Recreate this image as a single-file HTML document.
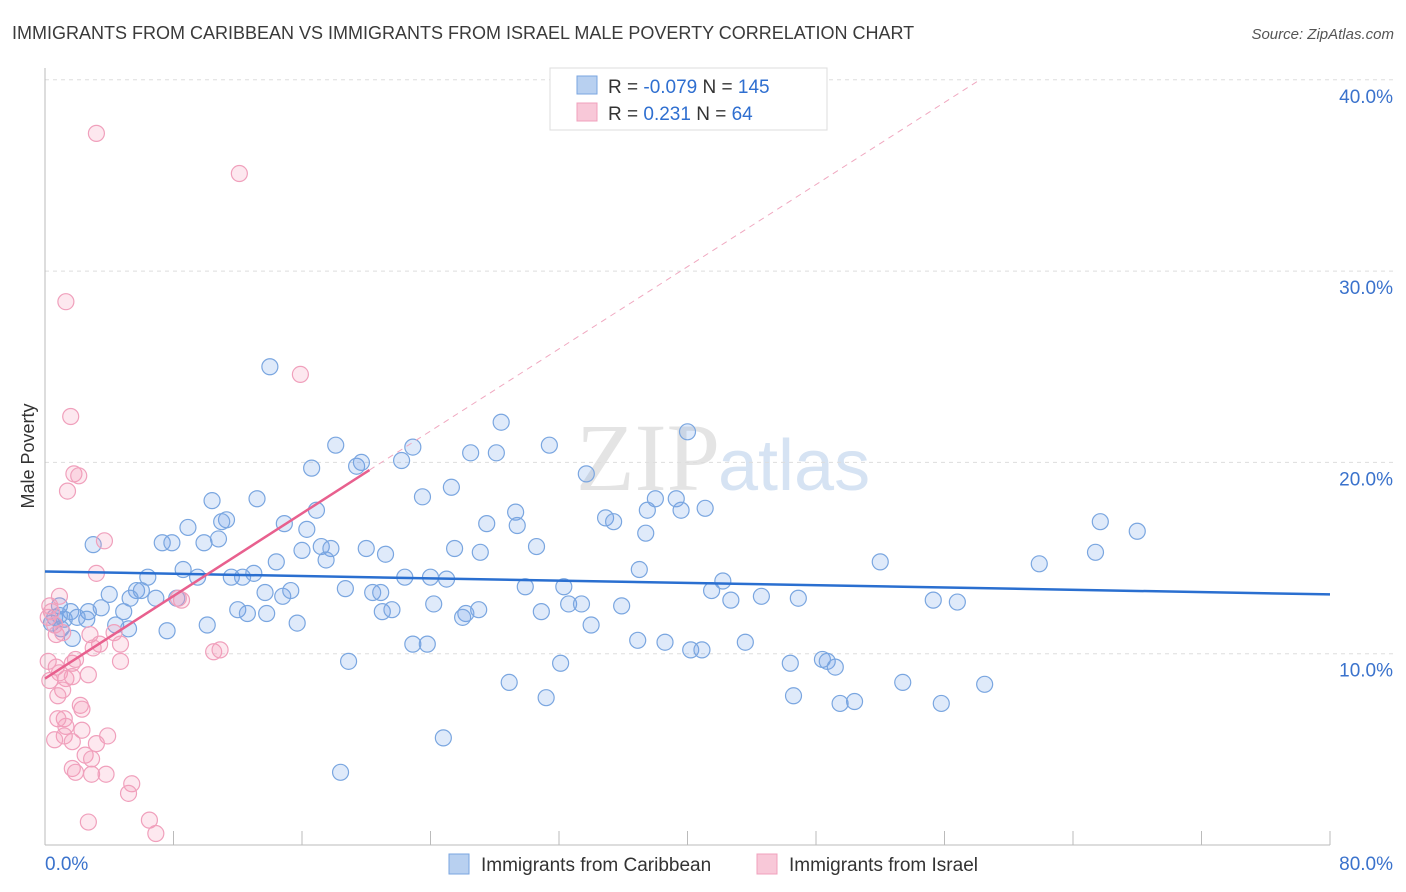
<!DOCTYPE html>
<html><head><meta charset="utf-8"><style>
body{margin:0;background:#fff;font-family:"Liberation Sans",sans-serif;}
#wrap{position:relative;width:1406px;height:892px;overflow:hidden;}
</style></head><body>
<div id="wrap">
<svg id="svg" width="1406" height="892" xmlns="http://www.w3.org/2000/svg">
<text x="12" y="39" font-size="18" fill="#3a3a3a">IMMIGRANTS FROM CARIBBEAN VS IMMIGRANTS FROM ISRAEL MALE POVERTY CORRELATION CHART</text>
<text x="1394" y="39" font-size="15" font-style="italic" fill="#555" text-anchor="end">Source: ZipAtlas.com</text>
<text x="720" y="490" font-size="96" font-family="Liberation Serif,serif" fill="#e4e4e4" text-anchor="end">ZIP</text>
<text x="718" y="490" font-size="72" fill="#d6e3f3">atlas</text>
<text transform="translate(34,456) rotate(-90)" font-size="18" fill="#333" text-anchor="middle">Male Poverty</text>
<g id="grid"></g><g id="marks"></g>
<g>
<rect x="550" y="68" width="277" height="62" fill="#fff" stroke="#ddd"/>
<rect x="577" y="76" width="20" height="18" fill="#b8d0f0" stroke="#7aa6e0"/>
<rect x="577" y="103" width="20" height="18" fill="#f8c8d8" stroke="#f0a0bc"/>
<text x="608" y="93" font-size="19" fill="#333">R = <tspan fill="#2f6fd0">-0.079</tspan>   N = <tspan fill="#2f6fd0">145</tspan></text>
<text x="608" y="120" font-size="19" fill="#333">R =    <tspan fill="#2f6fd0">0.231</tspan>   N =  <tspan fill="#2f6fd0"> 64</tspan></text>
</g>
<g>
<rect x="449" y="854" width="20" height="20" fill="#b8d0f0" stroke="#7aa6e0"/>
<text x="481" y="871" font-size="19" fill="#333">Immigrants from Caribbean</text>
<rect x="757" y="854" width="20" height="20" fill="#f8c8d8" stroke="#f0a0bc"/>
<text x="789" y="871" font-size="19" fill="#333">Immigrants from Israel</text>
</g>
</svg>
</div>
<script>
const yTicks=[10,20,30,40];
const yTickLabels=["10.0%","20.0%","30.0%","40.0%"];
const xTicks=[0,8,16,24,32,40,48,56,64,72,80];
const blueX=[14.0,28.4,40.0,18.1,22.9,31.4,26.5,28.1,19.4,19.7,22.2,16.6,33.7,25.3,23.5,13.2,10.4,38.0,39.3,29.3,34.9,35.4,37.5,39.6,41.1,27.5,29.4,11.3,11.0,16.9,14.9,16.3,8.9,10.8,9.9,7.3,7.9,3.0,17.2,17.8,30.6,25.5,27.1,16.0,20.0,21.2,37.4,17.5,14.4,37.0,52.0,61.9,65.4,65.7,68.0,8.6,9.5,6.4,11.6,12.3,13.0,22.4,24.0,25.0,5.7,4.0,6.0,6.9,5.3,8.2,13.7,14.8,15.3,18.7,20.4,20.9,29.9,32.3,41.5,42.2,42.7,44.6,46.9,55.3,56.8,0.9,1.6,2.7,3.5,4.9,2.6,1.2,2.0,4.4,5.2,1.0,1.7,7.6,10.1,12.0,12.6,13.8,15.7,21.0,21.6,24.2,26.2,27.0,26.0,30.9,32.6,33.4,34.0,35.9,22.9,23.8,36.9,38.6,40.2,40.9,43.6,18.9,32.1,46.4,48.4,48.7,49.2,28.9,53.4,58.5,31.2,46.6,49.5,50.4,55.8,24.8,18.4,0.6,0.4,0.9];
const blueY=[25.0,22.1,21.6,20.9,20.8,20.9,20.5,20.5,19.8,20.0,20.1,19.7,19.4,18.7,18.2,18.1,18.0,18.1,18.1,17.4,17.1,16.9,17.5,17.5,17.6,16.8,16.7,17.0,16.9,17.5,16.8,16.5,16.6,16.0,15.8,15.8,15.8,15.7,15.6,15.5,15.6,15.5,15.3,15.4,15.5,15.2,16.3,14.9,14.8,14.4,14.8,14.7,15.3,16.9,16.4,14.4,14.0,14.0,14.0,14.0,14.2,14.0,14.0,13.9,13.3,13.1,13.3,12.9,12.9,12.9,13.2,13.0,13.3,13.4,13.2,13.2,13.5,13.5,13.3,13.8,12.8,13.0,12.9,12.8,12.7,12.5,12.2,12.2,12.4,12.2,11.8,11.8,11.9,11.5,11.3,11.3,10.8,11.2,11.5,12.3,12.1,12.1,11.6,12.2,12.3,12.6,12.1,12.3,11.9,12.2,12.6,12.6,11.5,12.5,10.5,10.5,10.7,10.6,10.2,10.2,10.6,9.6,9.5,9.5,9.7,9.6,9.3,8.5,8.5,8.4,7.7,7.8,7.4,7.5,7.4,5.6,3.8,11.9,11.6,12.0];
const pinkX=[3.2,12.1,1.3,15.9,1.6,1.8,2.1,1.4,3.7,3.2,0.9,0.3,0.4,0.2,0.6,0.7,1.1,2.8,4.3,3.4,4.7,8.5,8.3,10.5,10.9,0.2,0.7,1.7,1.9,3.0,0.9,1.3,1.7,2.7,4.7,0.3,1.1,0.8,2.2,2.3,1.2,1.3,2.3,1.2,1.7,3.9,3.2,2.5,2.9,1.7,1.9,2.9,3.8,5.4,5.2,2.7,6.5,6.9,0.8,0.6];
const pinkY=[37.2,35.1,28.4,24.6,22.4,19.4,19.3,18.5,15.9,14.2,13.0,12.5,12.2,11.9,11.5,11.0,11.1,11.0,11.1,10.5,10.5,12.8,12.9,10.1,10.2,9.6,9.3,9.5,9.7,10.3,9.0,8.7,8.8,8.9,9.6,8.6,8.1,7.8,7.3,7.1,6.6,6.2,6.0,5.7,5.4,5.7,5.3,4.7,4.5,4.0,3.8,3.7,3.7,3.2,2.7,1.2,1.3,0.6,6.6,5.5];
const blueTrend=[[0,14.3],[80,13.1]];
const pinkTrend=[[0,8.7],[20.2,19.6]];
const pinkDash=[[20.2,19.6],[58.2,40]];
const X0=45,X1=1330,Y0=845,PXPER=19.13;
const sx=v=>X0+(v/80)*(X1-X0);
const sy=v=>Y0-v*PXPER;
const NS="http://www.w3.org/2000/svg";
function mk(tag,attrs,parent){const e=document.createElementNS(NS,tag);for(const k in attrs)e.setAttribute(k,attrs[k]);parent.appendChild(e);return e;}
const grid=document.getElementById('grid'),marks=document.getElementById('marks');
yTicks.forEach((t,i)=>{
 const l=mk('line',{x1:X0,x2:1394,y1:sy(t),y2:sy(t),stroke:'#ddd','stroke-dasharray':'4,4'},grid);
 
 
 const tx=mk('text',{x:1393,y:sy(t)+23,'font-size':19,fill:'#3a72cc','text-anchor':'end'},grid);
 tx.textContent=yTickLabels[i];
 
 
});
const ax=mk('line',{x1:X0,x2:X1,y1:Y0,y2:Y0,stroke:'#bbb'},grid);


const ay=mk('line',{x1:X0,x2:X0,y1:68,y2:Y0,stroke:'#bbb'},grid);


xTicks.forEach(t=>{
 const l=mk('line',{x1:sx(t),x2:sx(t),y1:Y0,y2:Y0-14,stroke:'#bbb'},grid);
 
 
});
const xl0=mk('text',{x:45,y:870,'font-size':19,fill:'#3a72cc'},grid);xl0.textContent='0.0%';


const xl1=mk('text',{x:1393,y:870,'font-size':19,fill:'#3a72cc','text-anchor':'end'},grid);xl1.textContent='80.0%';


blueX.forEach((x,i)=>{
 const c=mk('circle',{cx:sx(x),cy:sy(blueY[i]),r:8,fill:'rgba(110,160,230,0.22)',stroke:'#7aa6e0','stroke-width':1.2},marks);
 
 
});
pinkX.forEach((x,i)=>{
 const c=mk('circle',{cx:sx(x),cy:sy(pinkY[i]),r:8,fill:'rgba(245,150,180,0.22)',stroke:'#f0a0bc','stroke-width':1.2},marks);
 
 
});
const bt=mk('line',{x1:sx(blueTrend[0][0]),y1:sy(blueTrend[0][1]),x2:sx(blueTrend[1][0]),y2:sy(blueTrend[1][1]),stroke:'#2a6fd0','stroke-width':2.5},marks);


const pd=mk('line',{x1:sx(pinkDash[0][0]),y1:sy(pinkDash[0][1]),x2:sx(pinkDash[1][0]),y2:sy(pinkDash[1][1]),stroke:'#f0a8c0','stroke-width':1,'stroke-dasharray':'6,5'},marks);


const pt=mk('line',{x1:sx(pinkTrend[0][0]),y1:sy(pinkTrend[0][1]),x2:sx(pinkTrend[1][0]),y2:sy(pinkTrend[1][1]),stroke:'#e8608e','stroke-width':2.5},marks);


</script>
</body></html>
